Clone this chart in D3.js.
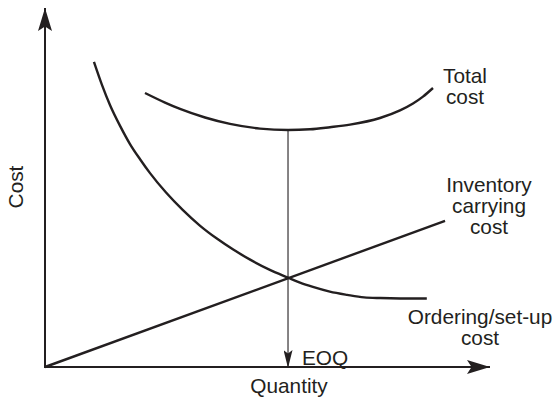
<!DOCTYPE html>
<html lang="en">
<head>
  <meta charset="UTF-8">
  <title>EOQ Cost Curves</title>
  <script src="https://d3js.org/d3.v7.min.js"></script>
  <style>
    body {
      margin: 0;
      background: #fff;
      font-family: 'Liberation Sans', Arial, Helvetica, sans-serif;
    }
    svg { display: block; }
    .curve { fill: none; stroke: #231f20; stroke-width: 2.4; }
    .axis-line { stroke: #231f20; stroke-width: 2; }
    .eoq-line { stroke: #231f20; stroke-width: 1.1; }
    text { fill: #231f20; font-size: 20.8px; }
  </style>
</head>
<body>

<svg width="557" height="399"></svg>

<script>
// quantity / cost in arbitrary units (0-100 on both axes)
const orderingCost = [
  [11.0, 85.0], [12.8, 78.6], [14.6, 73.0], [16.9, 67.1], [19.1, 62.1],
  [21.4, 57.8], [23.6, 54.0], [27.2, 48.6], [31.0, 43.7], [34.8, 39.4],
  [38.7, 35.7], [42.3, 32.7], [46.1, 29.9], [50.3, 27.2], [54.6, 24.9],
  [57.3, 23.5], [60.2, 22.3], [64.0, 21.0], [67.9, 20.1], [71.7, 19.4],
  [75.3, 19.2], [79.8, 19.1], [85.8, 19.1]
];
const carryingCost = [[0, 0], [89.9, 40.7]];
const totalCost = [
  [22.47, 76.32], [26.97, 73.65], [30.34, 71.89], [35.96, 69.50], [41.57, 67.72],
  [48.31, 66.41], [54.61, 66.02], [59.55, 66.21], [64.04, 66.80], [68.54, 67.52],
  [75.28, 69.36], [79.78, 71.48], [82.70, 73.40], [84.94, 75.32], [87.19, 77.72]
];
const eoq = 54.61;
const eoqMinCost = 66.02;

const svg = d3.select("svg");

const x = d3.scaleLinear().domain([0, 100]).range([45, 490]);
const y = d3.scaleLinear().domain([0, 100]).range([367, 8]);

// barbed arrowheads
const defs = svg.append("defs");
function arrow(id, len, half) {
  defs.append("marker")
    .attr("id", id)
    .attr("viewBox", `0 ${-half} ${len} ${half * 2}`)
    .attr("refX", len)
    .attr("refY", 0)
    .attr("markerUnits", "userSpaceOnUse")
    .attr("markerWidth", len)
    .attr("markerHeight", half * 2)
    .attr("orient", "auto")
    .append("path")
    .attr("d", `M0,${-half}L${len},0L0,${half}L${len * 0.2},0Z`)
    .attr("fill", "#231f20");
}
arrow("axisArrow", 23, 7);
arrow("eoqArrow", 18, 4.5);

// axes
svg.append("line")
  .attr("class", "axis-line")
  .attr("x1", x(0)).attr("y1", y(0))
  .attr("x2", x(0)).attr("y2", y(100))
  .attr("marker-end", "url(#axisArrow)");

svg.append("line")
  .attr("class", "axis-line")
  .attr("x1", x(0) - 1).attr("y1", y(0))
  .attr("x2", x(100)).attr("y2", y(0))
  .attr("marker-end", "url(#axisArrow)");

const line = d3.line()
  .curve(d3.curveMonotoneX)
  .x(d => x(d[0]))
  .y(d => y(d[1]));

[orderingCost, carryingCost, totalCost].forEach(s => {
  svg.append("path")
    .datum(s)
    .attr("class", "curve")
    .attr("d", line);
});

// EOQ drop line
svg.append("line")
  .attr("class", "eoq-line")
  .attr("x1", x(eoq)).attr("y1", y(eoqMinCost))
  .attr("x2", x(eoq)).attr("y2", y(0) + 1)
  .attr("marker-end", "url(#eoqArrow)");

// labels
function label(lines, cx, baseline, lh) {
  const t = svg.append("text")
    .attr("text-anchor", "middle");
  lines.forEach((s, i) => {
    t.append("tspan")
      .attr("x", cx)
      .attr("y", baseline + i * lh)
      .text(s);
  });
}
label(["Total", "cost"], 465, 83, 21);
label(["Inventory", "carrying", "cost"], 489, 192, 21);
label(["Ordering/set-up", "cost"], 480, 324, 21);

svg.append("text")
  .attr("x", x(eoq) + 14)
  .attr("y", 365)
  .text("EOQ");

svg.append("text")
  .attr("x", 289)
  .attr("y", 393)
  .attr("text-anchor", "middle")
  .text("Quantity");

svg.append("text")
  .attr("transform", "translate(23,187) rotate(-90)")
  .attr("text-anchor", "middle")
  .text("Cost");
</script>

</body>
</html>
